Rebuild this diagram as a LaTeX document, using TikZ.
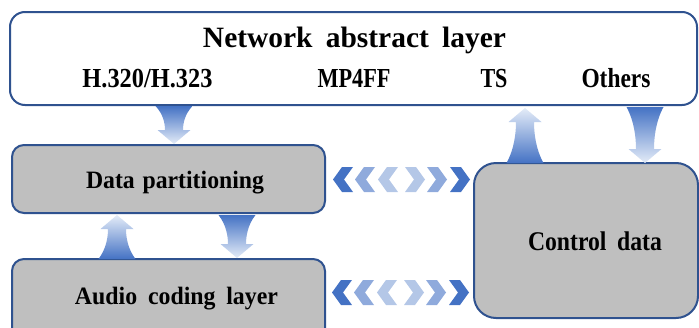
\documentclass[tikz,border=0pt]{standalone}
\usepackage{fontspec}
\setmainfont{Liberation Serif}
\usepackage{graphicx}
\definecolor{bordc}{HTML}{2F528F}
\definecolor{boxg}{HTML}{BFBFBF}
\definecolor{dblue}{HTML}{4472C4}
\definecolor{mblue}{HTML}{8FAADC}
\definecolor{lblue}{HTML}{B4C7E7}
\definecolor{tipc}{HTML}{E4ECF8}
\newcommand\fittext[4][0.45em]{\resizebox{#2pt}{\height}{\fontsize{#3}{#3}\selectfont\bfseries\spaceskip=#1 #4}}
% block arrow: x, y base, y tip, shading options
\newcommand\barrow[4]{%
  \pgfmathsetmacro\bd{sign(#3-#2)}%
  \pgfmathsetmacro\yn{#3-\bd*14}%
  \pgfmathsetmacro\ya{#2+0.35*(\yn-#2)}%
  \pgfmathsetmacro\yc{#2+0.75*(\yn-#2)}%
  \shade[#4] ({#1-18.5},#2) .. controls ({#1-10.5},\ya) and ({#1-9},\yc) .. ({#1-9},\yn)
    -- ({#1-16.5},\yn) -- (#1,#3) -- ({#1+16.5},\yn) -- ({#1+9},\yn)
    .. controls ({#1+9},\yc) and ({#1+10.5},\ya) .. ({#1+18.5},#2) -- cycle;}
% chevrons: left x, centre y, colour
\newcommand\chevl[3]{\pgfmathsetmacro\cx{#1}%
  \fill[#3] (\cx,#2) -- ({\cx+9},{#2-12.5}) -- ({\cx+20},{#2-12.5}) -- ({\cx+11},#2) -- ({\cx+20},{#2+12.5}) -- ({\cx+9},{#2+12.5}) -- cycle;}
\newcommand\chevr[3]{\pgfmathsetmacro\cx{#1}%
  \fill[#3] (\cx,{#2-12.5}) -- ({\cx+11},{#2-12.5}) -- ({\cx+20},#2) -- ({\cx+11},{#2+12.5}) -- (\cx,{#2+12.5}) -- ({\cx+9},#2) -- cycle;}
\newcommand\chevrow[2]{%
  \chevl{#1}{#2}{dblue}\chevl{#1+22}{#2}{mblue}\chevl{#1+45}{#2}{lblue}%
  \chevr{#1+72}{#2}{lblue}\chevr{#1+94}{#2}{mblue}\chevr{#1+117}{#2}{dblue}}
\begin{document}
\begin{tikzpicture}[x=1pt,y=-1pt,
  boxst/.style={draw=bordc, line width=2pt},
  lbl/.style={anchor=base, inner sep=0pt, text=black},
  down/.style={top color=dblue, bottom color=tipc},
  up/.style={top color=tipc, bottom color=dblue}]
\useasboundingbox (0,0) rectangle (699,327);
\clip (0,0) rectangle (699,327);
% boxes
\draw[boxst, fill=white, rounded corners=15pt] (10,12) rectangle (697,105);
\node[inner sep=0pt] (nal) at (353.5,58.5) {};
\draw[boxst, fill=boxg, rounded corners=12pt] (12,145) rectangle (325,213);
\node[inner sep=0pt] (dp) at (168.5,179) {};
\draw[boxst, fill=boxg, rounded corners=12pt] (12,259) rectangle (325,345);
\node[inner sep=0pt] (acl) at (168.5,300) {};
\draw[boxst, fill=boxg, rounded corners=22pt] (474,163) rectangle (698,318);
\node[inner sep=0pt] (cd) at (586,240) {};
% labels
\node[lbl] (t1) at (354.5,47) {\fittext{303}{29.5}{Network abstract layer}};
\node[lbl] (t2) at (147.5,87) {\fittext{130}{27.5}{H.320/H.323}};
\node[lbl] (t3) at (354,87) {\fittext{73}{27.5}{MP4FF}};
\node[lbl] (t4) at (494,87) {\fittext{27}{27.5}{TS}};
\node[lbl] (t5) at (616,87) {\fittext{69}{27.5}{Others}};
\node[lbl] (t6) at (175,188.5) {\fittext[0.33em]{178}{25}{Data partitioning}};
\node[lbl] (t7) at (176.5,304.5) {\fittext{203}{25}{Audio coding layer}};
\node[lbl] (t8) at (595,250.5) {\fittext{134}{27}{Control data}};
% block arrows
\barrow{174}{106}{144}{down}
\barrow{237}{215}{258}{down}
\barrow{117}{259}{215}{up}
\barrow{525}{163}{108}{up}
\barrow{645}{107}{163}{down}
% chevron rows
\chevrow{333}{179.5}
\chevrow{332}{292.5}
\end{tikzpicture}
\end{document}
